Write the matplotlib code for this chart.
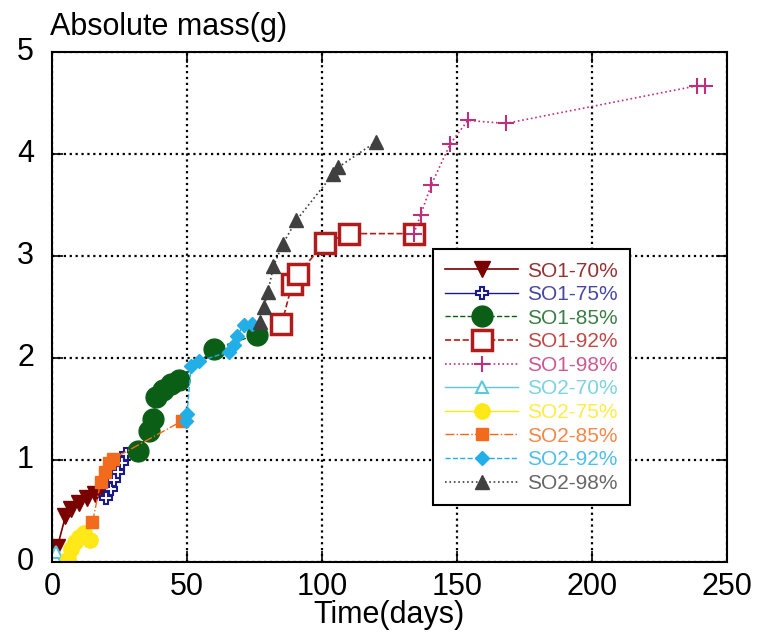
import matplotlib
matplotlib.use("Agg")
import matplotlib.pyplot as plt
from matplotlib.transforms import ScaledTranslation

plt.rcParams['font.family'] = ['Liberation Sans', 'DejaVu Sans']

# data (time in days, absolute mass in g)
so1_70_t = [2, 5, 7, 10, 13, 16, 19]
so1_70_m = [0.15, 0.45, 0.52, 0.58, 0.63, 0.67, 0.70]

so1_75_t = [20, 22, 23, 24.5, 26, 27.5]
so1_75_m = [0.63, 0.72, 0.80, 0.88, 0.97, 1.06]

so1_85_t = [32, 36, 37.5, 38.5, 41, 44, 47, 60, 76]
so1_85_m = [1.09, 1.28, 1.40, 1.62, 1.69, 1.75, 1.78, 2.09, 2.23]

so1_92_t = [85, 89, 91, 101, 110, 134]
so1_92_m = [2.33, 2.73, 2.82, 3.13, 3.22, 3.22]

so1_98_t = [134, 136.5, 140.5, 147.5, 154, 168, 239, 242]
so1_98_m = [3.22, 3.40, 3.70, 4.10, 4.33, 4.30, 4.67, 4.67]

so2_70_t = [0.5, 1, 1.5]
so2_70_m = [0.0, 0.05, 0.10]

so2_75_t = [6, 7, 8.5, 10, 12, 14]
so2_75_m = [0.03, 0.13, 0.20, 0.25, 0.28, 0.22]

so2_85_t = [15, 18, 19.5, 21, 22.5, 48]
so2_85_m = [0.39, 0.78, 0.88, 0.97, 1.01, 1.38]

so2_92_t = [49.5, 50, 51.5, 54.5, 65.5, 67.5, 68.5, 71, 74]
so2_92_m = [1.38, 1.45, 1.92, 1.97, 2.06, 2.13, 2.22, 2.32, 2.33]

so2_98_t = [77, 78.5, 80, 82, 85.5, 90.5, 104, 106, 120]
so2_98_m = [2.35, 2.50, 2.65, 2.90, 3.12, 3.35, 3.80, 3.87, 4.12]

fig = plt.figure(figsize=(7.58, 6.39), dpi=100)
ax = fig.add_axes([0.0686, 0.1205, 0.8905, 0.798])

ax.plot(so1_70_t, so1_70_m, '-', color='#7a0000', marker='v', ms=11, lw=1.2, label='SO1-70%')
ax.plot(so1_75_t, so1_75_m, '-', color='#1a1a8c', marker='P', ms=9, mfc='white', mec='#1a1a8c', mew=1.5, lw=1.0, label='SO1-75%')
ax.plot(so1_85_t, so1_85_m, '--', color='#0b5e16', marker='o', ms=15, lw=1.0, label='SO1-85%')
ax.plot(so1_92_t, so1_92_m, '--', color='#b01c1c', marker='s', ms=15, mfc='white', mew=2.5, lw=1.2, label='SO1-92%')
ax.plot(so1_98_t, so1_98_m, ':', color='#c0307a', marker='+', ms=12, mew=1.5, lw=1.2, label='SO1-98%')
ax.plot(so2_70_t, so2_70_m, '-', color='#5cc8d8', marker='^', ms=8, mfc='white', mew=1.5, lw=1.0, label='SO2-70%')
ax.plot(so2_75_t, so2_75_m, '-', color='#ffe817', marker='o', ms=11, lw=1.0, label='SO2-75%')
ax.plot(so2_85_t, so2_85_m, '-.', color='#f26a1b', marker='s', ms=9, lw=1.0, label='SO2-85%')
ax.plot(so2_92_t, so2_92_m, '--', color='#22aee6', marker='D', ms=7, lw=1.0, label='SO2-92%')
ax.plot(so2_98_t, so2_98_m, ':', color='#404040', marker='^', ms=10, lw=1.2, label='SO2-98%')

ax.set_xlim(0, 250)
ax.set_ylim(0, 5)
ax.set_xticks([0, 50, 100, 150, 200, 250])
ax.set_yticks([0, 1, 2, 3, 4, 5])
ax.grid(True, color='black', linestyle=':', linewidth=1.6)
ax.tick_params(direction='in', length=8, width=1.2, top=True, right=True, labelsize=22)
ax.tick_params(axis='x', pad=7)
ax.tick_params(axis='y', pad=13)
for s in ax.spines.values():
    s.set_linewidth(1.5)

# y tick labels sit a little above their ticks in the original
shift = ScaledTranslation(0, 4 / 100, fig.dpi_scale_trans)
for lbl in ax.get_yticklabels():
    lbl.set_transform(lbl.get_transform() + shift)

ax.set_xlabel('Time(days)', fontsize=22, labelpad=-1)
fig.text(0.066, 0.958, 'Absolute mass(g)', fontsize=22, ha='left', va='center')

leg = ax.legend(loc='upper left', bbox_to_anchor=(0.5644, 0.6137), fontsize=15,
                frameon=True, fancybox=False, framealpha=1, edgecolor='black',
                markerscale=1.0, handlelength=3.5, handletextpad=0.4,
                labelspacing=0.22, borderpad=0.6, borderaxespad=0)
leg.get_frame().set_linewidth(1.5)
for txt, line in zip(leg.get_texts(), leg.get_lines()):
    txt.set_color(line.get_color())
    txt.set_alpha(0.8)

fig.savefig('out.png', dpi=100)
